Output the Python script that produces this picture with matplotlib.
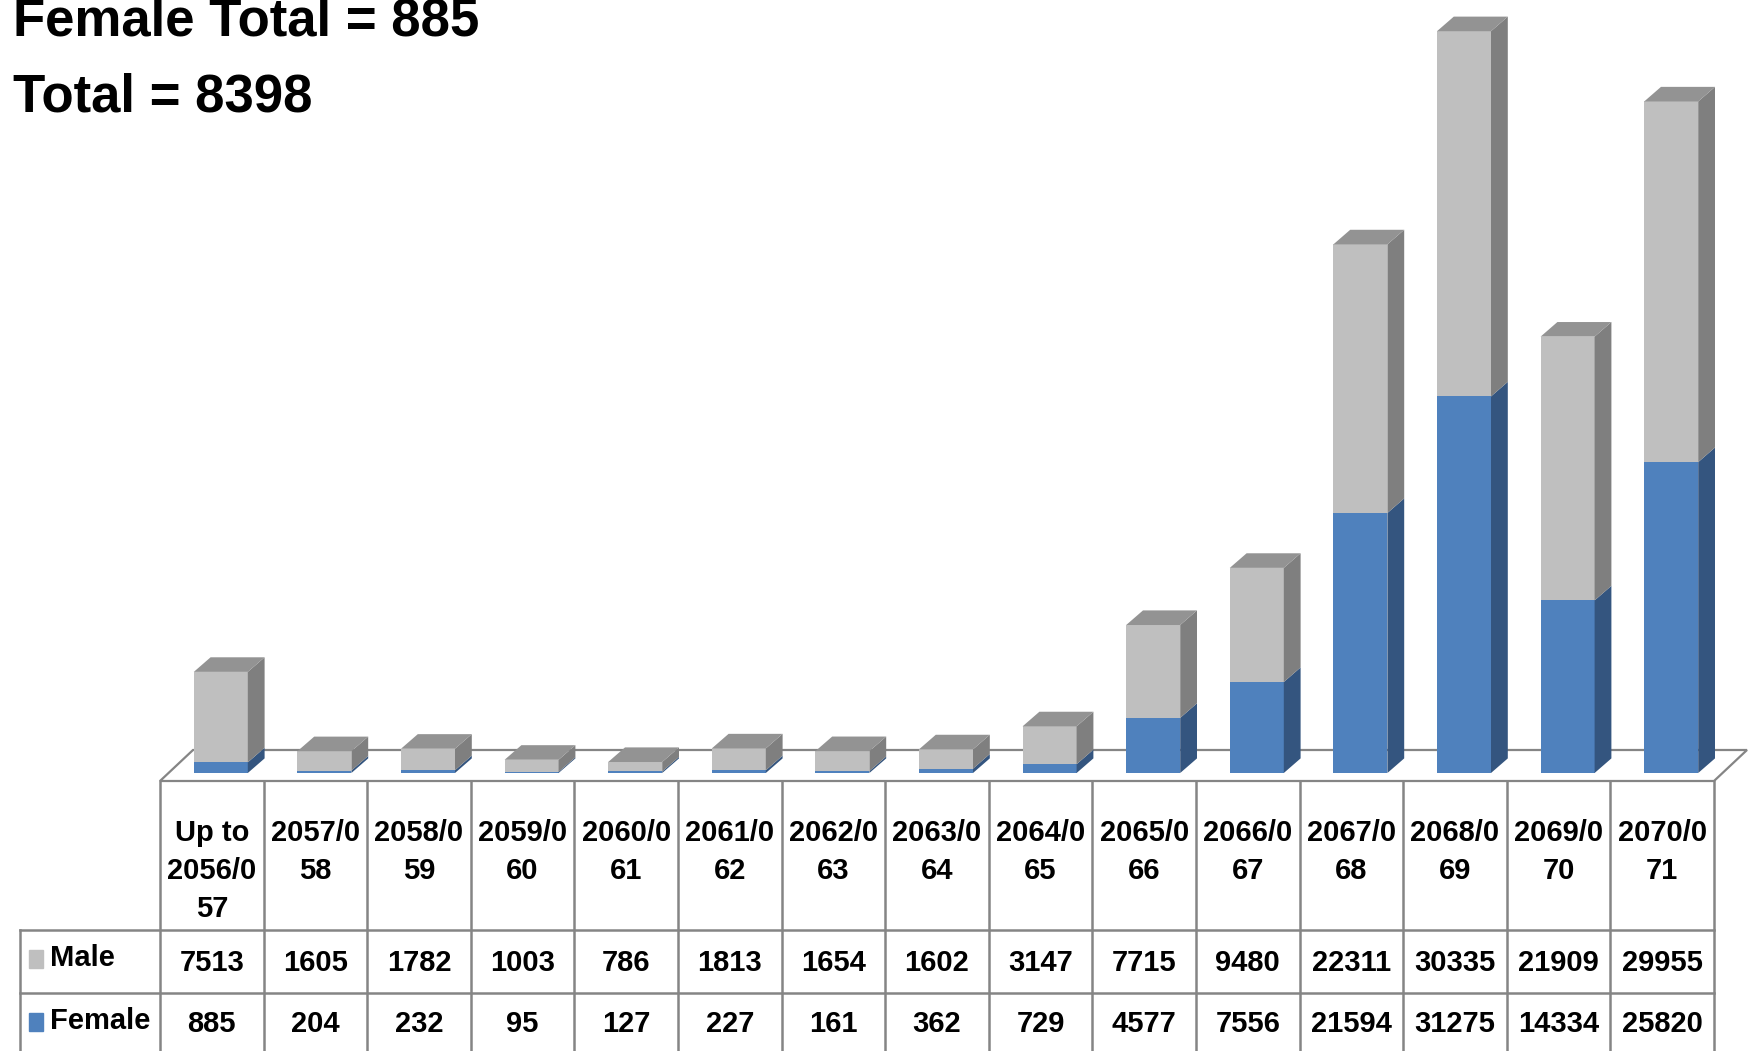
import numpy as np
import matplotlib.pyplot as plt
from matplotlib.patches import Polygon, Rectangle

# fiscal-year periods, male and female counts
periods = ["Up to\n2056/0\n57", "2057/0\n58", "2058/0\n59", "2059/0\n60", "2060/0\n61",
           "2061/0\n62", "2062/0\n63", "2063/0\n64", "2064/0\n65", "2065/0\n66",
           "2066/0\n67", "2067/0\n68", "2068/0\n69", "2069/0\n70", "2070/0\n71"]
male = [7513, 1605, 1782, 1003, 786, 1813, 1654, 1602, 3147, 7715, 9480, 22311, 30335, 21909, 29955]
female = [885, 204, 232, 95, 127, 227, 161, 362, 729, 4577, 7556, 21594, 31275, 14334, 25820]
female_total = 885
grand_total = 8398

W, H = 1756, 1051
fig = plt.figure(figsize=(W / 100, H / 100), dpi=100)

# layout in pixels
tab_left, tab_right = 160, 1714
lab_left = 20
base_px = 773
px_per_unit = 0.01204
n = len(periods)
cat_px = (tab_right - tab_left) / n

grey_f, grey_s, grey_t = "#bfbfbf", "#7f7f7f", "#939393"
blue_f, blue_s = "#4f81bd", "#34557f"
line_c = "#858585"

# ---- 3D-look stacked bars ----
ax = fig.add_axes([tab_left / W, (H - base_px) / H, (tab_right - tab_left) / W, base_px / H])
ax.set_xlim(-0.5, n - 0.5)
ax.set_ylim(0, base_px / px_per_unit)
ax.axis("off")

to_units = 1 / px_per_unit
dxb = 16.8 / cat_px
dyb = 14.6 * to_units
shift = 9 / cat_px
bw = 54 / cat_px

# floor
fy0 = -(781 - base_px) * to_units
fy1 = (base_px - 750) * to_units
fdx = 33 / cat_px
floor = Polygon([(-0.5, fy0), (n - 0.5, fy0), (n - 0.5 + fdx, fy1), (-0.5 + fdx, fy1)],
                closed=True, facecolor="white", edgecolor=line_c, lw=1.6, clip_on=False, zorder=1)
ax.add_patch(floor)

x = np.arange(n) + shift
male_arr = np.array(male)
fem_arr = np.array(female)
ax.bar(x, fem_arr, width=bw, color=blue_f, zorder=3, clip_on=False)
ax.bar(x, male_arr, bottom=fem_arr, width=bw, color=grey_f, zorder=3, clip_on=False)

for xi, f, m in zip(x, fem_arr, male_arr):
    xl, xr = xi - bw / 2, xi + bw / 2
    for y0, y1, c in [(0, f, blue_s), (f, f + m, grey_s)]:
        ax.add_patch(Polygon([(xr, y0), (xr + dxb, y0 + dyb), (xr + dxb, y1 + dyb), (xr, y1)],
                             closed=True, facecolor=c, edgecolor="none", zorder=3, clip_on=False))
    top = f + m
    ax.add_patch(Polygon([(xl, top), (xl + dxb, top + dyb), (xr + dxb, top + dyb), (xr, top)],
                         closed=True, facecolor=grey_t, edgecolor="none", zorder=3, clip_on=False))

# ---- data table ----
tb = fig.add_axes([0, 0, 1, 1], zorder=-1)
tb.set_xlim(0, W)
tb.set_ylim(H, 0)
tb.axis("off")

hdr_top, hdr_bot, male_bot, fem_bot = 781, 930, 993, 1060
lw = 1.8
for i in range(n + 1):
    xv = tab_left + i * cat_px
    tb.plot([xv, xv], [hdr_top, fem_bot], color=line_c, lw=lw)
tb.plot([lab_left, lab_left], [hdr_bot, fem_bot], color=line_c, lw=lw)
for yv in (hdr_bot, male_bot):
    tb.plot([lab_left, tab_right], [yv, yv], color=line_c, lw=lw)

tfont = ["Liberation Sans", "DejaVu Sans"]
fs = 21
for i, lab in enumerate(periods):
    cx = tab_left + (i + 0.5) * cat_px
    for k, part in enumerate(lab.split("\n")):
        tb.text(cx, 833 + k * 38, part, ha="center", va="center",
                fontsize=fs, fontweight="bold", family=tfont)
    tb.text(cx, 963, f"{male[i]}", ha="center", va="center", fontsize=fs,
            fontweight="bold", family=tfont)
    tb.text(cx, 1024, f"{female[i]}", ha="center", va="center", fontsize=fs,
            fontweight="bold", family=tfont)

# legend keys inside the row headers
tb.add_patch(Rectangle((29, 950), 14, 18, color=grey_f))
tb.add_patch(Rectangle((29, 1013), 14, 18, color=blue_f))
tb.text(50, 958, "Male", ha="left", va="center", fontsize=fs, fontweight="bold", family=tfont)
tb.text(50, 1021, "Female", ha="left", va="center", fontsize=fs, fontweight="bold", family=tfont)

# totals
tb.text(13, 36, f"Female Total = {female_total}", ha="left", va="baseline",
        fontsize=38, fontweight="bold", family=["Liberation Sans", "DejaVu Sans"])
tb.text(13, 112, f"Total = {grand_total}", ha="left", va="baseline",
        fontsize=38, fontweight="bold", family=["Liberation Sans", "DejaVu Sans"])

fig.savefig("out.png", dpi=100)
